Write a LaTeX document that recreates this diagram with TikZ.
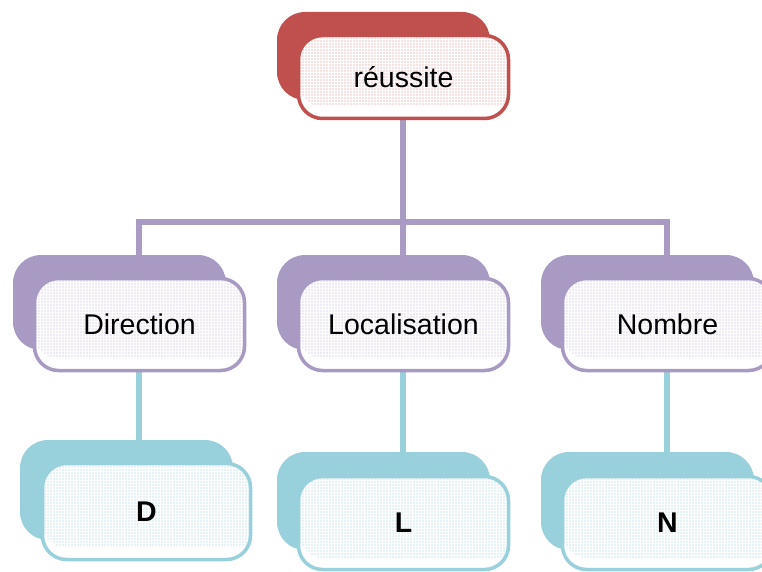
\documentclass[tikz,border=0pt]{standalone}
\usepackage{fontspec}
\setmainfont{Liberation Sans}
\usetikzlibrary{patterns}

% fine dot grid used for the glossy fill of the front boxes
\pgfdeclarepatternformonly{finedots}{\pgfqpoint{-1pt}{-1pt}}{\pgfqpoint{1pt}{1pt}}{\pgfqpoint{3pt}{3pt}}{%
  \pgfpathcircle{\pgfqpoint{0pt}{0pt}}{0.62pt}\pgfusepath{fill}}

\definecolor{topred}{RGB}{192,80,77}
\definecolor{topdots}{RGB}{226,128,126}
\definecolor{midpurple}{RGB}{168,154,194}
\definecolor{middots}{RGB}{184,172,208}
\definecolor{lowcyan}{RGB}{152,208,220}
\definecolor{lowdots}{RGB}{150,205,220}

\tikzset{
  backbox/.style={fill=#1, draw=none, rounded corners=28pt,
    inner sep=0pt, outer sep=0pt},
  frontbox/.style 2 args={fill=white, draw=#1, line width=3.5pt,
    rounded corners=24pt, inner sep=0pt, outer sep=0pt,
    font=\fontsize{28.5}{31}\selectfont,
    path picture={
      % dotted sheen: whole box except a bottom strip, round at lower right
      \fill[pattern=finedots, pattern color=#2]
        (path picture bounding box.north west)
        -- (path picture bounding box.north east)
        -- ([yshift=32pt]path picture bounding box.south east)
        arc[start angle=0, end angle=-90, radius=20pt]
        -- ([yshift=12pt]path picture bounding box.south west)
        -- cycle;
    }},
  purpleline/.style={draw=midpurple, line width=6pt},
  cyanline/.style={draw=lowcyan, line width=6pt},
}

\begin{document}
\begin{tikzpicture}[x=1pt, y=-1pt]
  \useasboundingbox (0,0) rectangle (762,572);

  % height of the horizontal bar joining the middle row
  \coordinate (bar) at (0,222);

  % connectors (drawn first, behind the boxes)
  \coordinate (rootfoot) at (403,119);
  \coordinate (dirtop) at (139,256);
  \coordinate (loctop) at (403,256);
  \coordinate (nomtop) at (667,256);
  \coordinate (dirfoot) at (139,370);
  \coordinate (locfoot) at (403,370);
  \coordinate (nomfoot) at (667,370);
  \coordinate (dtop) at (139,442);
  \coordinate (ltop) at (403,454);
  \coordinate (ntop) at (667,454);

  \draw[purpleline] (rootfoot) -- (loctop);
  \draw[purpleline] (dirtop) -- (dirtop |- bar) -- (nomtop |- bar) -- (nomtop);
  \draw[cyanline] (dirfoot) -- (dtop);
  \draw[cyanline] (locfoot) -- (ltop);
  \draw[cyanline] (nomfoot) -- (ntop);

  % root
  \node[backbox=topred, minimum width=213pt, minimum height=88pt] (rootB) at (383.5,56) {};
  \node[frontbox={topred}{topdots}, minimum width=210pt, minimum height=83pt] (root) at (403.5,77) {réussite};

  % middle row
  \node[backbox=midpurple, minimum width=213pt, minimum height=95pt] (dirB) at (119.5,302.5) {};
  \node[frontbox={midpurple}{middots}, minimum width=210pt, minimum height=92pt] (dir) at (139.5,324.5) {Direction};

  \node[backbox=midpurple, minimum width=213pt, minimum height=95pt] (locB) at (383.5,302.5) {};
  \node[frontbox={midpurple}{middots}, minimum width=210pt, minimum height=92pt] (loc) at (403.5,324.5) {Localisation};

  \node[backbox=midpurple, minimum width=213pt, minimum height=95pt] (nomB) at (647.5,302.5) {};
  \node[frontbox={midpurple}{middots}, minimum width=210pt, minimum height=92pt] (nom) at (667.5,324.5) {Nombre};

  % bottom row
  \node[backbox=lowcyan, minimum width=213pt, minimum height=100pt] (dB) at (126.5,490) {};
  \node[frontbox={lowcyan}{lowdots}, minimum width=208pt, minimum height=96pt] (d) at (146.5,511.5) {\textbf{D}};

  \node[backbox=lowcyan, minimum width=213pt, minimum height=98pt] (lB) at (383.5,501) {};
  \node[frontbox={lowcyan}{lowdots}, minimum width=210pt, minimum height=93pt] (l) at (403.5,523) {\textbf{L}};

  \node[backbox=lowcyan, minimum width=213pt, minimum height=98pt] (nB) at (647.5,501) {};
  \node[frontbox={lowcyan}{lowdots}, minimum width=210pt, minimum height=93pt] (n) at (667.5,523) {\textbf{N}};
\end{tikzpicture}
\end{document}
